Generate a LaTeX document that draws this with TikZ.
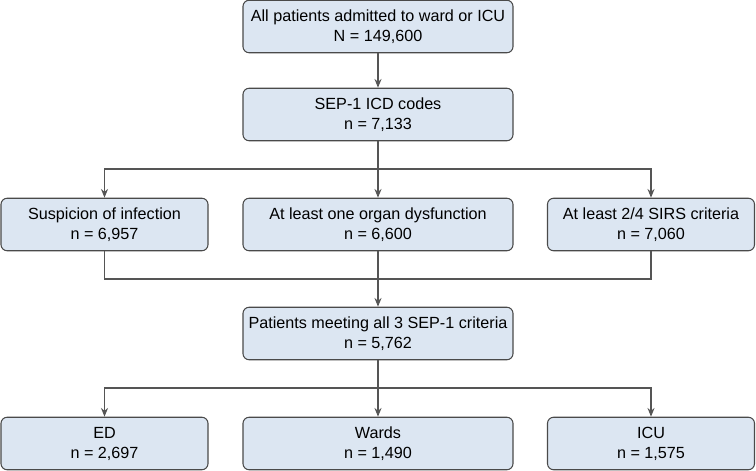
\documentclass[tikz,border=0pt]{standalone}
\usepackage{fontspec}
\setmainfont{Liberation Sans}
\usetikzlibrary{arrows.meta}
\definecolor{boxfill}{HTML}{DCE6F2}
\definecolor{boxline}{HTML}{4A4A4A}
\definecolor{flowline}{HTML}{555555}
\tikzset{
  flowbox/.style={draw=boxline, fill=boxfill, rounded corners=3.5pt, align=center,
    minimum height=1.05cm, inner sep=0pt, font=\fontsize{9.2}{11.4}\selectfont},
  widebox/.style={flowbox, minimum width=5.4cm},
  sidebox/.style={flowbox, minimum width=4.14cm}
}
\begin{document}
\begin{tikzpicture}[>={Stealth[length=5pt,width=4pt]}, line width=0.6pt]
            \useasboundingbox (0,0) rectangle (15.12,-9.42);
            \node[widebox] (all) at (7.56,-0.53) {All patients admitted to ward or ICU\\N = 149,600};
            \node[widebox] (icd) at (7.56,-2.29) {SEP-1 ICD codes\\n = 7,133};
            \node[sidebox] (susp) at (2.09,-4.49) {Suspicion of infection\\n = 6,957};
            \node[widebox] (organ) at (7.56,-4.49) {At least one organ dysfunction\\n = 6,600};
            \node[sidebox] (sirs) at (13.02,-4.49) {At least 2/4 SIRS criteria\\n = 7,060};
            \node[widebox] (meet) at (7.56,-6.67) {Patients meeting all 3 SEP-1 criteria\\n = 5,762};
            \node[sidebox] (ed) at (2.09,-8.87) {ED\\n = 2,697};
            \node[widebox] (wards) at (7.56,-8.87) {Wards\\n = 1,490};
            \node[sidebox] (icu) at (13.02,-8.87) {ICU\\n = 1,575};
            \coordinate (split1) at (7.56,-3.38);
            \coordinate (join) at (7.56,-5.58);
            \coordinate (split2) at (7.56,-7.76);
            \draw[->, flowline] (all) -- (icd);
            \draw[flowline] (icd) -- (split1);
            \draw[->, flowline] (split1) -| (susp);
            \draw[->, flowline] (split1) -- (organ);
            \draw[->, flowline] (split1) -| (sirs);
            \draw[flowline] (susp) |- (join) -| (sirs);
            \draw[->, flowline] (organ) -- (meet);
            \draw[flowline] (meet) -- (split2);
            \draw[->, flowline] (split2) -| (ed);
            \draw[->, flowline] (split2) -- (wards);
            \draw[->, flowline] (split2) -| (icu);
\end{tikzpicture}
\end{document}
